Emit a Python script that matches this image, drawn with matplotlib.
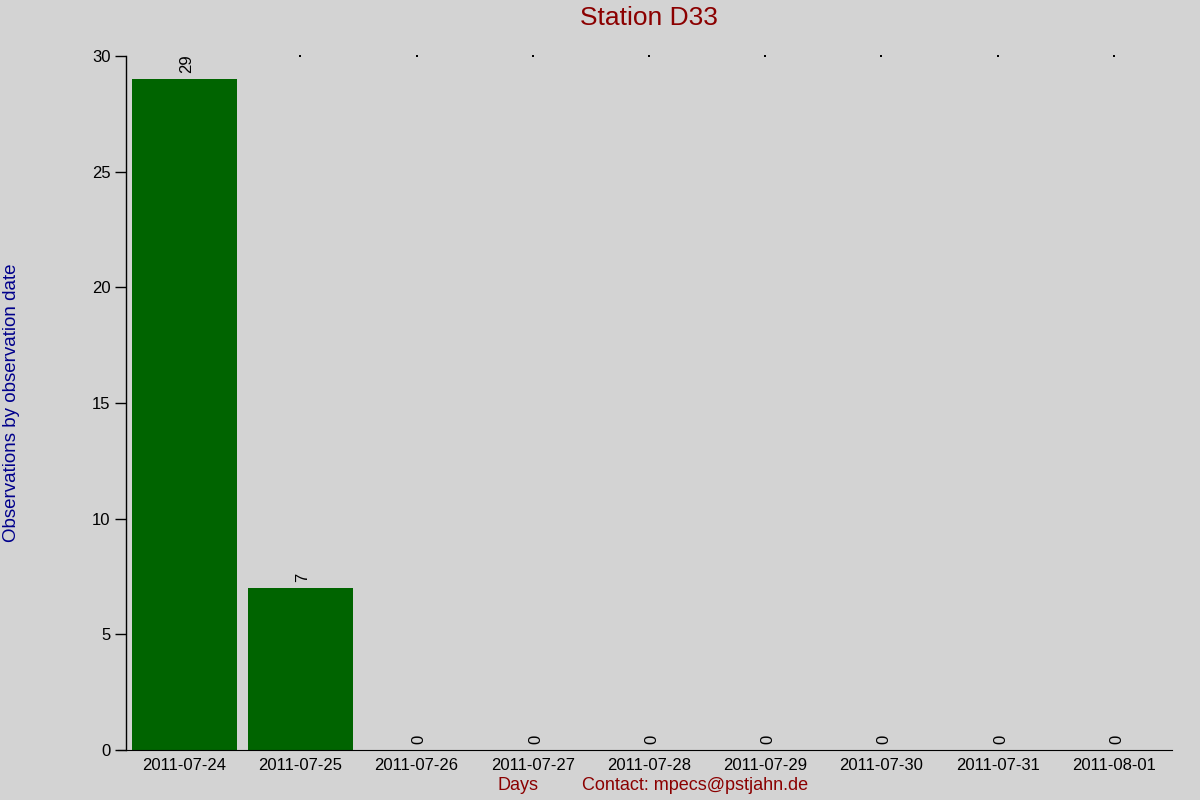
import matplotlib
matplotlib.use("Agg")
import matplotlib.pyplot as plt

days = ["2011-07-24", "2011-07-25", "2011-07-26", "2011-07-27", "2011-07-28",
        "2011-07-29", "2011-07-30", "2011-07-31", "2011-08-01"]
counts = [29, 7, 0, 0, 0, 0, 0, 0, 0]
yticks = [0, 5, 10, 15, 20, 25, 30]

plt.rcParams['font.family'] = ['Liberation Sans', 'DejaVu Sans']
bg = '#d3d3d3'
fig = plt.figure(figsize=(12, 8), dpi=100, facecolor=bg)
ax = fig.add_axes([126/1200, 50/800, (1172-126)/1200, (750-56)/800])
ax.set_facecolor(bg)

x = list(range(len(days)))
ax.bar(x, counts, width=0.905, color='#006400')
for xi, v in zip(x, counts):
    ax.annotate(str(v), (xi, v), xytext=(2, 4.5), textcoords='offset points',
                rotation=90, ha='center', va='bottom', fontsize=12, color='black')
# small dots at top for empty positions
ax.scatter([xi for xi, v in zip(x, counts) if v < 29], [30]*8, s=0.6, color='black',
           marker='s', linewidths=0, clip_on=False, zorder=5)

ax.set_xlim(-0.5, len(days) - 0.5)
ax.set_ylim(0, 30)
ax.set_yticks(yticks)
ax.set_xticks(x)
ax.set_xticklabels(days, fontsize=12)
ax.tick_params(axis='x', length=0, pad=6)
ax.tick_params(axis='y', length=8, width=1, labelsize=12, pad=3)
for s in ['top', 'right']:
    ax.spines[s].set_visible(False)
ax.spines['bottom'].set_bounds(-0.5 - 8/116.2, len(days) - 0.5)
ax.spines['left'].set_linewidth(1)

fig.text(649/1200, 1 - 18/800, "Station D33", ha='center', va='center',
         fontsize=19, color='#8b0000')
fig.text(12/1200, 1 - 403/800, "Observations by observation date", rotation=90,
         ha='center', va='center', fontsize=13.5, color='#00008b')
fig.text(518/1200, 1 - 786/800, "Days", ha='center', va='center', fontsize=13, color='#8b0000')
fig.text(695/1200, 1 - 786/800, "Contact: mpecs@pstjahn.de", ha='center', va='center',
         fontsize=13, color='#8b0000')

fig.savefig("out.png", dpi=100, facecolor=bg)
